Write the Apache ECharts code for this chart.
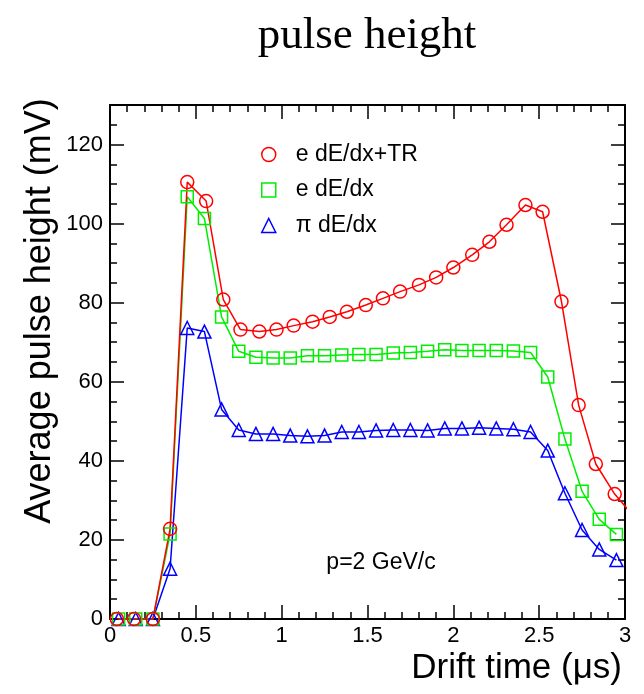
<!DOCTYPE html>
<html><head><meta charset="utf-8">
<script src="https://cdn.jsdelivr.net/npm/echarts@6/dist/echarts.min.js"></script>
<style>html,body{margin:0;padding:0;background:#fff}#c{width:644px;height:694px}</style>
</head><body><div id="c"></div>
<script>
// Drift time bin centres (µs) for e dE/dx and pi dE/dx
const timeBins = [0.05,0.15,0.25,0.35,0.45,0.55,0.65,0.75,0.85,0.95,1.05,1.15,1.25,1.35,1.45,1.55,1.65,1.75,1.85,1.95,2.05,2.15,2.25,2.35,2.45,2.55,2.65,2.75,2.85,2.95];
// Drift time points (µs) for e dE/dx+TR (slightly stretched)
const timeTR = [0.04,0.14,0.25,0.35,0.45,0.56,0.66,0.76,0.87,0.97,1.07,1.18,1.28,1.38,1.49,1.59,1.69,1.80,1.90,2.00,2.11,2.21,2.31,2.42,2.52,2.63,2.73,2.83,2.94,3.04];
const valTR = [0,0,0,22.8,110.5,105.7,80.8,73.2,72.7,73.2,74.2,75.2,76.4,77.7,79.4,81.1,82.8,84.5,86.4,88.9,92.1,95.4,99.7,104.7,103.0,80.3,54.1,39.2,31.6,26.5];
const valE = [0,0,0,21.5,106.8,101.3,76.4,67.7,66.2,66.0,66.0,66.6,66.6,66.8,66.9,66.9,67.3,67.4,67.7,68.1,67.9,67.9,67.9,67.8,67.4,61.2,45.5,32.3,25.2,21.4];
const valPi = [0,0,0,12.7,73.6,72.7,53.0,47.8,46.8,46.8,46.4,46.2,46.4,47.3,47.3,47.7,47.8,47.8,47.7,48.2,48.2,48.4,48.2,48.0,47.3,42.6,31.8,22.5,17.6,14.9];
const seriesNames = ['e dE/dx+TR','e dE/dx','\u03c0 dE/dx'];
const titleText = 'pulse height';
const xName = 'Drift time (\u03bcs)';
const yName = 'Average pulse height (mV)';
const noteText = 'p=2 GeV/c';

const SANS = '"Liberation Sans", Arial, Helvetica, sans-serif';
const SERIF = '"Liberation Serif", "Times New Roman", serif';
const RED = '#ff0000', GREEN = '#00ee00', BLUE = '#0000ff';

function mk(name, xs, ys, color, symbol, size) {
  return {
    name: name, type: 'line', xAxisIndex: 0, yAxisIndex: 0,
    data: xs.map((x, i) => [x, ys[i]]),
    symbol: symbol, symbolSize: size, showAllSymbol: true, clip: true,
    lineStyle: {color: color, width: 1.5},
    itemStyle: {color: 'transparent', borderColor: color, borderWidth: 1.5},
    emphasis: {disabled: true}, animation: false
  };
}
const tickStyle = {color: '#000', width: 1.5};
function xAx(pos, labels) {
  return {
    type: 'value', min: 0, max: 3, interval: 0.5, position: pos,
    axisLine: {show: true, onZero: false, lineStyle: {color: '#000', width: 2}},
    axisTick: {show: true, inside: true, length: 14, lineStyle: tickStyle},
    minorTick: {show: true, splitNumber: 5, length: 7, lineStyle: tickStyle},
    axisLabel: {show: labels, fontSize: 22, color: '#000', fontFamily: SANS, margin: 6},
    splitLine: {show: false}, minorSplitLine: {show: false}
  };
}
function yAx(pos, labels, interval, len, line) {
  return {
    type: 'value', min: 0, max: 130, interval: interval, position: pos,
    axisLine: {show: line, onZero: false, lineStyle: {color: '#000', width: 2}},
    axisTick: {show: true, inside: true, length: len, lineStyle: tickStyle},
    axisLabel: {show: labels, showMaxLabel: false, fontSize: 22, color: '#000', fontFamily: SANS, margin: 7},
    splitLine: {show: false}
  };
}

const chart = echarts.init(document.getElementById('c'), null, {renderer: 'canvas'});
chart.setOption({
  animation: false,
  backgroundColor: '#fff',
  grid: {left: 110, right: 19, top: 105, bottom: 75, containLabel: false},
  xAxis: [xAx('bottom', true), xAx('top', false)],
  yAxis: [yAx('left', true, 20, 14, true), yAx('left', false, 5, 7, false),
          yAx('right', false, 20, 14, true), yAx('right', false, 5, 7, false)],
  legend: {
    orient: 'vertical', left: 256, top: 138, itemWidth: 14, itemHeight: 14, itemGap: 12.5,
    selectedMode: false, symbolKeepAspect: true,
    textStyle: {fontSize: 23, color: '#000', fontFamily: SANS, padding: [0, 0, 0, 15]},
    data: [
      {name: seriesNames[0], icon: 'circle', itemStyle: {color: 'transparent', borderColor: RED, borderWidth: 1.5}},
      {name: seriesNames[1], icon: 'rect', itemStyle: {color: 'transparent', borderColor: GREEN, borderWidth: 1.5}},
      {name: seriesNames[2], icon: 'triangle', itemStyle: {color: 'transparent', borderColor: BLUE, borderWidth: 1.5}}
    ]
  },
  graphic: [
    {type: 'text', x: 367, y: 36, style: {text: titleText, font: '45px ' + SERIF, fill: '#000', align: 'center', verticalAlign: 'middle'}},
    {type: 'text', x: 40, y: 311, rotation: Math.PI / 2, style: {text: yName, font: '36px ' + SANS, fill: '#000', align: 'center', verticalAlign: 'middle'}},
    {type: 'text', x: 622, y: 668, style: {text: xName, font: '35px ' + SANS, fill: '#000', align: 'right', verticalAlign: 'middle'}},
    {type: 'text', x: 381, y: 563, style: {text: noteText, font: '23px ' + SANS, fill: '#000', align: 'center', verticalAlign: 'middle'}}
  ],
  series: [
    mk(seriesNames[2], timeBins, valPi, BLUE, 'triangle', 13),
    mk(seriesNames[1], timeBins, valE, GREEN, 'rect', 12),
    mk(seriesNames[0], timeTR, valTR, RED, 'circle', 13)
  ]
});
</script>
</body></html>
